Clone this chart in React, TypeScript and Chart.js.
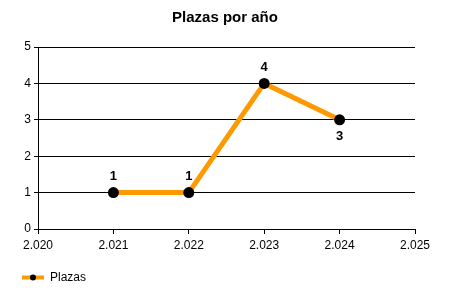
import React, { useEffect, useRef } from "react";
import { Chart, registerables } from "chart.js";

Chart.register(...registerables);

const years = [2021, 2022, 2023, 2024];
const plazas = [1, 1, 4, 3];
const seriesName = "Plazas";
const chartTitle = "Plazas por año";
const xMin = 2020;
const xMax = 2025;
const yMin = 0;
const yMax = 5;

const ORANGE = "#FF9900";
const FONT = "'Liberation Sans', Arial, sans-serif";

const fmtThousands = (v: number) => {
  const s = String(Math.round(v));
  return s.replace(/\B(?=(\d{3})+(?!\d))/g, ".");
};

const dataLabelPlugin = {
  id: "dataLabels",
  afterDatasetsDraw(chart: any) {
    const ctx = chart.ctx;
    const meta = chart.getDatasetMeta(0);
    const vals = chart.data.datasets[0].data as any[];
    ctx.save();
    ctx.font = `bold 13px ${FONT}`;
    ctx.fillStyle = "#000";
    ctx.textAlign = "center";
    ctx.textBaseline = "middle";
    meta.data.forEach((pt: any, i: number) => {
      const v = vals[i].y;
      const prev = i > 0 ? vals[i - 1].y : -Infinity;
      const below = prev > v;
      const y = below ? pt.y + 17 : pt.y - 16;
      ctx.fillText(String(v), pt.x, y);
    });
    ctx.restore();
  },
};

const legendPlugin = {
  id: "customLegend",
  afterDraw(chart: any) {
    const ctx = chart.ctx;
    const y = chart.height - 22.5;
    ctx.save();
    ctx.strokeStyle = ORANGE;
    ctx.lineWidth = 4;
    ctx.beginPath();
    ctx.moveTo(22, y);
    ctx.lineTo(44, y);
    ctx.stroke();
    ctx.fillStyle = "#000";
    ctx.beginPath();
    ctx.arc(33, y, 3, 0, Math.PI * 2);
    ctx.fill();
    ctx.font = `12px ${FONT}`;
    ctx.textAlign = "left";
    ctx.textBaseline = "middle";
    ctx.fillText(seriesName, 50, y);
    ctx.restore();
  },
};

export default function App() {
  const ref = useRef<HTMLCanvasElement>(null);

  useEffect(() => {
    document.body.style.margin = "0";
    const canvas = ref.current;
    if (!canvas) return;
    const chart = new Chart(canvas, {
      type: "line",
      data: {
        datasets: [
          {
            label: seriesName,
            data: years.map((x, i) => ({ x, y: plazas[i] })),
            borderColor: ORANGE,
            borderWidth: 5,
            backgroundColor: "#000",
            pointBackgroundColor: "#000",
            pointBorderColor: "#000",
            pointBorderWidth: 0,
            pointRadius: 5.5,
            tension: 0,
            fill: false,
            yAxisID: "y",
          },
        ],
      },
      options: {
        responsive: false,
        animation: false,
        devicePixelRatio: 1,
        layout: { padding: 0 },
        plugins: {
          legend: { display: false },
          tooltip: { enabled: false },
          title: {
            display: true,
            text: chartTitle,
            color: "#000",
            font: { family: FONT, size: 15, weight: "bold" },
            padding: { top: 9, bottom: 20 },
          },
        },
        scales: {
          x: {
            type: "linear",
            min: xMin,
            max: xMax,
            afterFit(scale: any) {
              scale.height = 71;
            },
            ticks: {
              stepSize: 1,
              color: "#000",
              font: { family: FONT, size: 12 },
              padding: 4,
              maxRotation: 0,
              callback: (v: any) => fmtThousands(Number(v)),
            },
            grid: {
              drawOnChartArea: false,
              drawTicks: true,
              tickLength: 5,
              color: "#000",
            },
            border: { display: true, color: "#000", width: 1 },
          },
          y: {
            min: yMin,
            max: yMax,
            afterFit(scale: any) {
              scale.width = 38;
            },
            ticks: {
              stepSize: 1,
              color: "#000",
              font: { family: FONT, size: 12 },
              padding: 3,
            },
            grid: {
              color: "#000",
              lineWidth: 1,
              drawTicks: true,
              tickLength: 4,
            },
            border: { display: true, color: "#000", width: 1 },
          },
          yRight: {
            position: "right",
            min: yMin,
            max: yMax,
            afterFit(scale: any) {
              scale.width = 35;
            },
            ticks: { display: false },
            grid: { display: false },
            border: { display: false },
          },
        },
      },
      plugins: [dataLabelPlugin, legendPlugin],
    } as any);
    return () => chart.destroy();
  }, []);

  return (
    <div style={{ width: 450, height: 300, background: "#fff" }}>
      <canvas ref={ref} width={450} height={300} style={{ display: "block" }} />
    </div>
  );
}
